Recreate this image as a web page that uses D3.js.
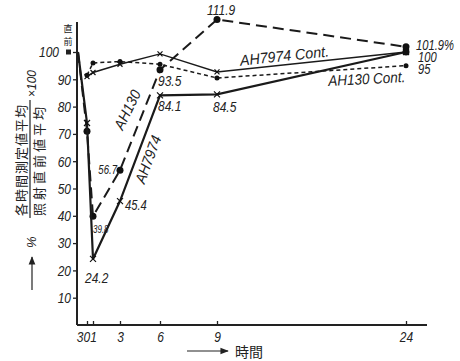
<!DOCTYPE html>
<html>
<head>
<meta charset="utf-8">
<script src="https://cdn.jsdelivr.net/npm/d3@7"></script>
<style>
  body { margin: 0; background: #fff; }
  svg { display: block; }
  .num { font-family: "Liberation Sans", Arial, sans-serif; font-style: italic; }
  .jp { font-family: "Noto Sans CJK JP", sans-serif; }
</style>
</head>
<body>
<div id="chart"></div>
<script>
// hours after irradiation (0 = just before)
const hours = [0, 0.5, 1, 3, 6, 9, 24]
const xTickValues = [0.5, 1, 3, 6, 9, 24]
const xTickLabels = ['30', '1', '3', '6', '9', '24']
const yTickValues = [10, 20, 30, 40, 50, 60, 70, 80, 90, 100]

const ah130 = [100, 71, 39.8, 56.7, 93.5, 111.9, 101.9]
const ah7974 = [100, 74, 24.2, 45.4, 84.1, 84.5, 100]
const ah7974Cont = [null, 91, 92.5, 95.5, 99.3, 92.7, 100]
const ah130Cont = [null, 91.5, 96, 96.5, 95.5, 90.5, 95]

const width = 460
const height = 361
const squeeze = 0.8   // the printed figures use a narrow italic face

const svg = d3.select('#chart').append('svg')
  .attr('width', width)
  .attr('height', height)

// the time axis of the original is not uniform, so the scale is piecewise
const x = d3.scaleLinear()
  .domain(hours)
  .range([78, 87, 93, 120, 160, 217, 406])

const y = d3.scaleLinear()
  .domain([0, 100])
  .range([325, 52])

// --- axes ---
const yAxis = d3.axisLeft(y).tickValues(yTickValues).tickSize(4).tickFormat(d => d)
const gy = svg.append('g')
  .attr('transform', 'translate(77,0)')
  .call(yAxis)
gy.select('.domain').remove()
gy.selectAll('.tick line').attr('stroke', '#222').attr('stroke-width', 1.3)
gy.selectAll('.tick text')
  .attr('class', 'num')
  .attr('font-size', 15)
  .attr('fill', '#222')
  .attr('x', d => (d === 100 ? -18 : -6) / squeeze)
  .attr('transform', `scale(${squeeze},1)`)

svg.append('rect')
  .attr('x', 66).attr('y', y(100) - 2.5)
  .attr('width', 5).attr('height', 5)
  .attr('fill', '#222')

svg.append('line')
  .attr('x1', 77).attr('x2', 77)
  .attr('y1', 22).attr('y2', 325)
  .attr('stroke', '#222').attr('stroke-width', 2)

const xAxis = d3.axisBottom(x).tickValues(xTickValues).tickSize(-4)
  .tickFormat((d, i) => xTickLabels[i])
const gx = svg.append('g')
  .attr('transform', 'translate(0,325)')
  .call(xAxis)
gx.select('.domain').remove()
gx.selectAll('.tick line').attr('stroke', '#222').attr('stroke-width', 1.3)
gx.selectAll('.tick text')
  .attr('class', 'num')
  .attr('font-size', 15)
  .attr('fill', '#222')
  .attr('y', 6)
  .attr('dx', d => d === 0.5 ? -5 : 0)
  .attr('transform', `scale(${squeeze},1)`)

svg.append('line')
  .attr('x1', 77).attr('x2', 427)
  .attr('y1', 325).attr('y2', 325)
  .attr('stroke', '#222').attr('stroke-width', 2)

// --- series ---
const line = d3.line()
  .x(d => x(d[0]))
  .y(d => y(d[1]))

function pairs(values) {
  return hours.map((h, i) => [h, values[i]]).filter(d => d[1] !== null)
}

const series = [
  { values: ah130Cont, width: 1.5, dash: '4,3', marker: 'dot', r: 2.5 },
  { values: ah7974Cont, width: 1.4, dash: null, marker: 'cross', r: 2.5 },
  { values: ah130, width: 2, dash: '11,6', marker: 'dot', r: 3.5 },
  { values: ah7974, width: 2.2, dash: null, marker: 'cross', r: 3 }
]

series.forEach(function(s) {
  const pts = pairs(s.values)
  svg.append('path')
    .datum(pts)
    .attr('fill', 'none')
    .attr('stroke', '#1a1a1a')
    .attr('stroke-width', s.width)
    .attr('stroke-dasharray', s.dash)
    .attr('d', line)

  const marks = pts.filter(d => d[0] !== 0)
  if (s.marker === 'dot') {
    svg.append('g').selectAll('circle')
      .data(marks)
      .join('circle')
        .attr('cx', d => x(d[0]))
        .attr('cy', d => y(d[1]))
        .attr('r', s.r)
        .attr('fill', '#111')
  } else {
    svg.append('g').selectAll('path')
      .data(marks)
      .join('path')
        .attr('d', d => {
          const cx = x(d[0]), cy = y(d[1]), r = s.r
          return `M${cx - r},${cy - r}L${cx + r},${cy + r}M${cx - r},${cy + r}L${cx + r},${cy - r}`
        })
        .attr('stroke', '#111')
        .attr('stroke-width', 1.2)
  }
})

// big dot at 24h on AH7974
svg.append('circle')
  .attr('cx', x(24)).attr('cy', y(ah7974[6]))
  .attr('r', 3.5).attr('fill', '#111')

// --- value labels ---
function valueLabel(text, h, v, dx, dy, size, anchor) {
  svg.append('text')
    .attr('class', 'num')
    .attr('transform', `translate(${x(h) + dx},${y(v) + dy}) scale(${squeeze},1)`)
    .attr('font-size', size)
    .attr('text-anchor', anchor || 'start')
    .attr('fill', '#222')
    .text(text)
}

valueLabel(ah7974[2].toFixed(1), 1, ah7974[2], -8, 24, 15)
valueLabel(ah130[2].toFixed(1), 1, ah130[2], 0, 17, 10)
valueLabel(ah7974[3].toFixed(1), 3, ah7974[3], 5, 9, 14)
valueLabel(ah130[3].toFixed(1), 3, ah130[3], -3, 4, 12, 'end')
valueLabel(ah130[4].toFixed(1), 6, ah130[4], -2, 16, 15)
valueLabel(ah7974[4].toFixed(1), 6, ah7974[4], -2, 16, 15)
valueLabel(ah7974[5].toFixed(1), 9, ah7974[5], -4, 18, 15)
valueLabel(ah130[5].toFixed(1), 9, ah130[5], -10, -5, 15)
valueLabel(ah130[6].toFixed(1) + '%', 24, ah130[6], 10, 3, 14)
valueLabel(String(ah7974[6]), 24, ah7974[6], 12, 10, 14)
valueLabel(String(ah130Cont[6]), 24, ah130Cont[6], 12, 8, 14)

// --- series names ---
function seriesName(text, cx, cy, angle, size, sx) {
  svg.append('text')
    .attr('class', 'num')
    .attr('transform', `translate(${cx},${cy}) rotate(${angle}) scale(${sx},1)`)
    .attr('text-anchor', 'middle')
    .attr('font-size', size)
    .attr('fill', '#222')
    .text(text)
}

seriesName('AH130', x(3) + 12, y(78), -64, 15, 0.92)
seriesName('AH7974', x(3) + 33, y(60), -70, 15, 0.92)
seriesName('AH7974 Cont.', 285, 61, -6, 15, 0.95)
seriesName('AH130 Cont.', 367, 84, -3, 15, 0.9)

// --- "just before" mark ---
svg.append('text')
  .attr('class', 'jp')
  .attr('x', 68).attr('y', 32)
  .attr('text-anchor', 'middle')
  .attr('font-size', 9)
  .attr('fill', '#222')
  .text('直')
svg.append('text')
  .attr('class', 'jp')
  .attr('x', 68).attr('y', 45)
  .attr('text-anchor', 'middle')
  .attr('font-size', 9)
  .attr('fill', '#222')
  .text('前')

// --- y axis title (fraction) ---
const gt = svg.append('g').attr('transform', 'translate(0,160) rotate(-90)')
gt.append('text')
  .attr('class', 'jp')
  .attr('x', 0).attr('y', 26)
  .attr('text-anchor', 'middle')
  .attr('font-size', 13)
  .attr('letter-spacing', 1)
  .attr('fill', '#222')
  .text('各時間測定値平均')
gt.append('line')
  .attr('x1', -58).attr('x2', 60)
  .attr('y1', 30).attr('y2', 30)
  .attr('stroke', '#222').attr('stroke-width', 1.2)
gt.append('text')
  .attr('class', 'jp')
  .attr('x', 0).attr('y', 44)
  .attr('text-anchor', 'middle')
  .attr('font-size', 13)
  .attr('letter-spacing', 3)
  .attr('fill', '#222')
  .text('照射直前値平均')
gt.append('text')
  .attr('class', 'num')
  .attr('x', 63).attr('y', 36)
  .attr('font-size', 12)
  .attr('fill', '#222')
  .text('×100')

svg.append('text')
  .attr('class', 'num')
  .attr('transform', 'translate(36,248) rotate(-90)')
  .attr('font-size', 13)
  .attr('fill', '#222')
  .text('%')

svg.append('defs').append('marker')
  .attr('id', 'arrow')
  .attr('viewBox', '0 0 10 10')
  .attr('refX', 9).attr('refY', 5)
  .attr('markerWidth', 7).attr('markerHeight', 7)
  .attr('orient', 'auto')
  .append('path')
    .attr('d', 'M0,1L10,5L0,9Z')
    .attr('fill', '#222')

svg.append('line')
  .attr('x1', 32).attr('x2', 32)
  .attr('y1', 290).attr('y2', 257)
  .attr('stroke', '#222').attr('stroke-width', 1.2)
  .attr('marker-end', 'url(#arrow)')

// --- x axis title ---
svg.append('line')
  .attr('x1', 187).attr('x2', 228)
  .attr('y1', 351).attr('y2', 351)
  .attr('stroke', '#222').attr('stroke-width', 1.2)
  .attr('marker-end', 'url(#arrow)')
svg.append('text')
  .attr('class', 'jp')
  .attr('x', 235).attr('y', 357)
  .attr('font-size', 14)
  .attr('fill', '#222')
  .text('時間')
</script>
</body>
</html>
